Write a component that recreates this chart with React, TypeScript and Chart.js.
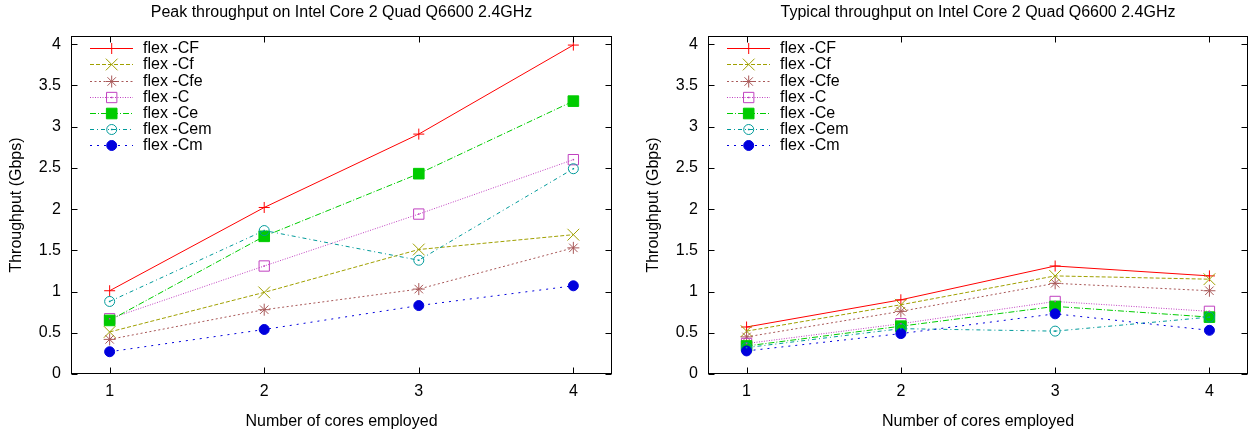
import React, { useEffect, useRef } from 'react';
import { Chart, registerables } from 'chart.js';
import { drawPoint } from 'chart.js/helpers';

Chart.register(...registerables);

const FONT = "'Liberation Sans', Arial, Helvetica, sans-serif";

// ---- data ----
const cores = [1, 2, 3, 4];
const yTickValues = [0, 0.5, 1, 1.5, 2, 2.5, 3, 3.5, 4];
const seriesLabels = ['flex -CF', 'flex -Cf', 'flex -Cfe', 'flex -C', 'flex -Ce', 'flex -Cem', 'flex -Cm'];

const peakCF = [1.01, 2.02, 2.91, 3.99];
const peakCf = [0.51, 0.99, 1.51, 1.69];
const peakCfe = [0.42, 0.78, 1.03, 1.53];
const peakC = [0.67, 1.31, 1.94, 2.6];
const peakCe = [0.65, 1.67, 2.43, 3.31];
const peakCem = [0.88, 1.74, 1.38, 2.49];
const peakCm = [0.27, 0.54, 0.83, 1.07];

const typCF = [0.57, 0.9, 1.31, 1.19];
const typCf = [0.52, 0.84, 1.19, 1.15];
const typCfe = [0.45, 0.76, 1.1, 1.01];
const typC = [0.37, 0.61, 0.88, 0.76];
const typCe = [0.34, 0.58, 0.82, 0.69];
const typCem = [0.32, 0.55, 0.52, 0.69];
const typCm = [0.28, 0.49, 0.73, 0.53];

const peakSeries = [peakCF, peakCf, peakCfe, peakC, peakCe, peakCem, peakCm];
const typicalSeries = [typCF, typCf, typCfe, typC, typCe, typCem, typCm];

const peakTitle = 'Peak throughput on Intel Core 2 Quad Q6600 2.4GHz';
const typicalTitle = 'Typical throughput on Intel Core 2 Quad Q6600 2.4GHz';
const xAxisTitle = 'Number of cores employed';
const yAxisTitle = 'Throughput (Gbps)';

// ---- styles ----
const STYLES: any[] = [
  { color: '#ff0000', dash: [], pointStyle: 'cross', radius: 5.5, fill: false },
  { color: '#a0a000', dash: [4, 2], pointStyle: 'crossRot', radius: 8.3, fill: false },
  { color: '#a85858', dash: [2, 2.5], pointStyle: 'star', radius: 6, fill: false },
  { color: '#c040c0', dash: [1, 1.5], pointStyle: 'rect', radius: 7.3, fill: false, dot: true },
  { color: '#00cc00', dash: [6, 2, 1, 2], pointStyle: 'rect', radius: 7.5, fill: true },
  { color: '#009a9a', dash: [4, 3, 1, 3], pointStyle: 'circle', radius: 5, fill: false, dot: true },
  { color: '#0000dd', dash: [2, 5], pointStyle: 'circle', radius: 5, fill: true },
];

function GnuplotChart({ title, series, left, width, rightPad }: any) {
  const ref = useRef<HTMLCanvasElement>(null);
  useEffect(() => {
    const datasets = series.map((vals: number[], i: number) => {
      const s = STYLES[i];
      return {
        label: seriesLabels[i],
        data: cores.map((c, j) => ({ x: c, y: vals[j] })),
        borderColor: s.color,
        backgroundColor: s.fill ? s.color : 'rgba(0,0,0,0)',
        borderWidth: 1,
        borderDash: s.dash,
        pointStyle: s.pointStyle,
        pointRadius: s.radius,
        pointHoverRadius: s.radius,
        pointBorderWidth: 1,
        pointBorderColor: s.color,
        pointBackgroundColor: s.fill ? s.color : 'rgba(0,0,0,0)',
        tension: 0,
        fill: false,
        order: -i,
      };
    });

    const plugin = {
      id: 'gp',
      afterDatasetsDraw(chart: any) {
        const ctx = chart.ctx;
        ctx.save();
        STYLES.forEach((s, i) => {
          if (!s.dot) return;
          const meta = chart.getDatasetMeta(i);
          ctx.fillStyle = s.color;
          meta.data.forEach((el: any) => {
            ctx.fillRect(el.x - 0.75, el.y - 0.75, 1.5, 1.5);
          });
        });
        ctx.restore();
      },
      afterDraw(chart: any) {
        const { ctx, chartArea: a, scales } = chart;
        ctx.save();
        // frame
        ctx.strokeStyle = '#000';
        ctx.lineWidth = 1;
        ctx.setLineDash([]);
        const L = Math.round(a.left) + 0.5;
        const R = Math.round(a.right) - 0.5;
        const T = Math.round(a.top) + 0.5;
        const B = Math.round(a.bottom) - 0.5;
        ctx.strokeRect(L, T, R - L, B - T);
        const tl = 6;
        ctx.beginPath();
        yTickValues.forEach((v) => {
          const y = Math.round(scales.y.getPixelForValue(v)) + 0.5;
          ctx.moveTo(L, y);
          ctx.lineTo(L + tl, y);
          ctx.moveTo(R, y);
          ctx.lineTo(R - tl, y);
        });
        cores.forEach((v) => {
          const x = Math.round(scales.x.getPixelForValue(v)) + 0.5;
          ctx.moveTo(x, B);
          ctx.lineTo(x, B - tl);
          ctx.moveTo(x, T);
          ctx.lineTo(x, T + tl);
        });
        ctx.stroke();

        // title
        ctx.fillStyle = '#000';
        ctx.font = `16px ${FONT}`;
        ctx.textAlign = 'center';
        ctx.textBaseline = 'middle';
        ctx.fillText(title, (a.left + a.right) / 2, 13);

        // legend
        seriesLabels.forEach((lab, i) => {
          const s = STYLES[i];
          const y = Math.round(a.top + 12.3 + i * 16.1) + 0.5;
          ctx.strokeStyle = s.color;
          ctx.lineWidth = 1;
          ctx.setLineDash(s.dash);
          ctx.beginPath();
          ctx.moveTo(a.left + 19, y);
          ctx.lineTo(a.left + 62, y);
          ctx.stroke();
          ctx.setLineDash([]);
          ctx.fillStyle = s.fill ? s.color : 'rgba(0,0,0,0)';
          drawPoint(ctx, { pointStyle: s.pointStyle, radius: s.radius, borderWidth: 1, rotation: 0 } as any, a.left + 40.7, y);
          if (s.dot) {
            ctx.fillStyle = s.color;
            ctx.fillRect(a.left + 40.7 - 0.75, y - 0.75, 1.5, 1.5);
          }
          ctx.fillStyle = '#000';
          ctx.textAlign = 'left';
          ctx.textBaseline = 'middle';
          ctx.fillText(lab, a.left + 72, y + 0.5);
        });
        ctx.restore();
      },
    };

    const chart = new Chart(ref.current as HTMLCanvasElement, {
      type: 'line',
      data: { datasets },
      options: {
        responsive: true,
        maintainAspectRatio: false,
        animation: false,
        layout: { autoPadding: false, padding: { top: 36, right: rightPad, left: 0, bottom: 0 } },
        plugins: {
          legend: { display: false },
          title: { display: false },
          tooltip: { enabled: false },
        },
        scales: {
          x: {
            type: 'linear',
            min: 0.75,
            max: 4.25,
            grid: { display: false, drawTicks: false },
            border: { display: false },
            afterBuildTicks: (s: any) => {
              s.ticks = cores.map((v) => ({ value: v }));
            },
            afterFit: (s: any) => {
              s.height = 59;
              s.paddingLeft = 0;
              s.paddingRight = 0;
            },
            ticks: {
              padding: 8,
              color: '#000',
              font: { family: FONT, size: 16 },
              callback: (v: any) => String(v),
            },
            title: {
              display: true,
              text: xAxisTitle,
              color: '#000',
              font: { family: FONT, size: 16 },
              padding: { top: 0, bottom: 2 },
            },
          },
          y: {
            type: 'linear',
            min: 0,
            max: 4.1,
            grid: { display: false, drawTicks: false },
            border: { display: false },
            afterBuildTicks: (s: any) => {
              s.ticks = yTickValues.map((v) => ({ value: v }));
            },
            afterFit: (s: any) => {
              s.width = 71;
              s.paddingTop = 0;
              s.paddingBottom = 0;
            },
            ticks: {
              padding: 10,
              color: '#000',
              font: { family: FONT, size: 16 },
              callback: (v: any) => String(v),
            },
            title: {
              display: true,
              text: yAxisTitle,
              color: '#000',
              font: { family: FONT, size: 16 },
              padding: { top: 7.4, bottom: 0 },
            },
          },
        },
      } as any,
      plugins: [plugin],
    });
    return () => chart.destroy();
  }, []);
  return (
    <div style={{ position: 'absolute', left, top: 0, width, height: 433 }}>
      <canvas ref={ref} />
    </div>
  );
}

export default function App() {
  return (
    <div style={{ position: 'absolute', left: 0, top: 0, width: 1249, height: 433, background: '#fff' }}>
      <GnuplotChart title={peakTitle} series={peakSeries} left={0} width={624} rightPad={12} />
      <GnuplotChart title={typicalTitle} series={typicalSeries} left={637} width={612} rightPad={1} />
    </div>
  );
}
